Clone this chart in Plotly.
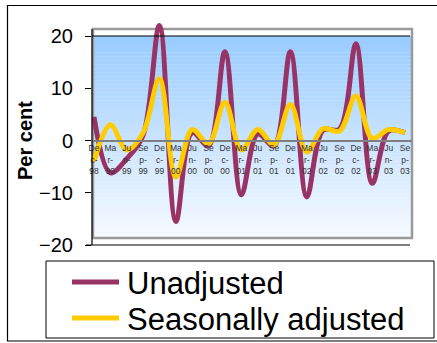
import plotly.graph_objects as go

# ---- data ----
periods = ["Dec-98", "Mar-99", "Jun-99", "Sep-99", "Dec-99", "Mar-00", "Jun-00", "Sep-00",
           "Dec-00", "Mar-01", "Jun-01", "Sep-01", "Dec-01", "Mar-02", "Jun-02", "Sep-02",
           "Dec-02", "Mar-03", "Jun-03", "Sep-03"]
tick_text = ["De<br>c-<br>98", "Ma<br>r-<br>99", "Ju<br>n-<br>99", "Se<br>p-<br>99",
             "De<br>c-<br>99", "Ma<br>r-<br>00", "Ju<br>n-<br>00", "Se<br>p-<br>00",
             "De<br>c-<br>00", "Ma<br>r-<br>01", "Ju<br>n-<br>01", "Se<br>p-<br>01",
             "De<br>c-<br>01", "Ma<br>r-<br>02", "Ju<br>n-<br>02", "Se<br>p-<br>02",
             "De<br>c-<br>02", "Ma<br>r-<br>03", "Ju<br>n-<br>03", "Se<br>p-<br>03"]
unadjusted = [4.5, -6.2, -3.5, 1.0, 22.0, -15.5, 1.5, -1.0, 17.0, -10.4,
              1.2, -1.0, 17.0, -10.8, 2.0, 2.2, 18.5, -8.2, 1.8, 1.5]
seasonally_adjusted = [-4.0, 3.0, -1.8, 1.5, 11.8, -7.0, 2.1, -0.6, 7.3, -1.8,
                       2.1, -0.8, 6.9, -2.2, 2.3, 1.8, 8.5, 0.4, 2.1, 1.5]
y_ticks = [-20, -10, 0, 10, 20]
y_title = "Per cent"
series_names = ["Unadjusted", "Seasonally adjusted"]
series_colors = ["#993366", "#FFCC00"]

FONT = "Liberation Sans, Arial, sans-serif"
W, H = 437, 343
L, R, T, B = 92, 25, 16, 98
plot_h = H - T - B
plot_w = W - L - R
px_per_unit = (245 - 36) / 40.0
y_lo = -20
y_hi = -20 + plot_h / px_per_unit

xs = list(range(len(periods)))
spacing = (405 - 94) / (len(periods) - 1)
x_lo = -(94 - L) / spacing
x_hi = (len(periods) - 1) + (W - R - 405) / spacing

fig = go.Figure()
for name, vals, col in zip(series_names, [unadjusted, seasonally_adjusted], series_colors):
    fig.add_trace(go.Scatter(x=xs, y=vals, mode="lines", name=name, showlegend=False,
                             line=dict(color=col, width=5, shape="spline", smoothing=1.0)))

def ypaper(v):
    return (v - y_lo) / (y_hi - y_lo)

def ypix(p):
    return (H - B - p) / plot_h

def xpix(p):
    return (p - L) / plot_w

shapes = []
# gradient background (blue top -> white bottom)
n = 50
g_top, g_bot = ypaper(20), ypix(238)
top_c = (153, 204, 255)
bot_c = (246, 250, 255)
for i in range(n):
    f = i / (n - 1)
    c = tuple(int(round(top_c[k] + (bot_c[k] - top_c[k]) * f)) for k in range(3))
    y1 = g_top - (g_top - g_bot) * i / n
    y0 = g_top - (g_top - g_bot) * (i + 1) / n
    shapes.append(dict(type="rect", xref="paper", yref="paper", x0=0, x1=1,
                       y0=y0 - 0.001, y1=y1, line=dict(width=0),
                       fillcolor="rgb(%d,%d,%d)" % c, layer="below"))
# grey plot-area frame
shapes.append(dict(type="rect", xref="paper", yref="paper", x0=xpix(93), x1=1,
                   y0=ypix(238), y1=ypix(29), line=dict(color="#9a9a9a", width=2.5),
                   fillcolor="rgba(0,0,0,0)", layer="below"))
# black lines at +20 and -20, and y-axis line
shapes.append(dict(type="line", xref="paper", yref="paper", x0=0, x1=xpix(410),
                   y0=ypaper(20), y1=ypaper(20), line=dict(color="black", width=1.2)))
shapes.append(dict(type="line", xref="paper", yref="paper", x0=xpix(86), x1=xpix(410),
                   y0=0, y1=0, line=dict(color="black", width=1.2)))
shapes.append(dict(type="line", xref="paper", yref="paper", x0=xpix(92), x1=xpix(92),
                   y0=0, y1=ypix(29), line=dict(color="black", width=1.2)))
# outer chart border
shapes.append(dict(type="rect", xref="paper", yref="paper", x0=xpix(7.5), x1=xpix(445),
                   y0=ypix(341), y1=ypix(5.5), line=dict(color="black", width=1.2),
                   fillcolor="rgba(0,0,0,0)"))
# legend box and samples
shapes.append(dict(type="rect", xref="paper", yref="paper", x0=xpix(46), x1=xpix(434),
                   y0=ypix(338), y1=ypix(261), line=dict(color="black", width=1),
                   fillcolor="white"))
annotations = []
legend_y = [282, 318]
for name, col, ly in zip(series_names, series_colors, legend_y):
    shapes.append(dict(type="line", xref="paper", yref="paper", x0=xpix(72), x1=xpix(119),
                       y0=ypix(ly), y1=ypix(ly), line=dict(color=col, width=5)))
    annotations.append(dict(text=name, xref="paper", yref="paper", x=xpix(125), y=ypix(ly + 1),
                            xanchor="left", yanchor="middle", showarrow=False,
                            font=dict(size=31, family=FONT, color="black")))
# y-axis title
annotations.append(dict(text="<b>%s</b>" % y_title, xref="paper", yref="paper",
                        x=xpix(25), y=ypix(141), xanchor="center", yanchor="middle",
                        textangle=-90, showarrow=False,
                        font=dict(size=20, family=FONT, color="black")))

fig.update_layout(
    width=W, height=H,
    margin=dict(l=L, r=R, t=T, b=B, autoexpand=False),
    paper_bgcolor="white", plot_bgcolor="rgba(0,0,0,0)",
    font=dict(family=FONT, color="black"),
    shapes=shapes, annotations=annotations,
    showlegend=False,
    xaxis=dict(range=[x_lo, x_hi], tickmode="array", tickvals=xs, ticktext=tick_text,
               tickangle=0, tickfont=dict(size=8.5, color="#333333", family=FONT),
               showgrid=False, zeroline=False, showline=True, linecolor="#7f7f7f",
               linewidth=1.5, anchor="free", position=ypaper(0), ticks="",
               fixedrange=True),
    yaxis=dict(range=[y_lo, y_hi], tickmode="array", tickvals=y_ticks,
               tickfont=dict(size=20, family=FONT, color="black"),
               ticks="outside", ticklen=6, tickcolor="black", tickwidth=1,
               ticklabelstandoff=8,
               showgrid=False, zeroline=False, showline=False,
               automargin=False, fixedrange=True),
)

fig.write_html("out.html")
